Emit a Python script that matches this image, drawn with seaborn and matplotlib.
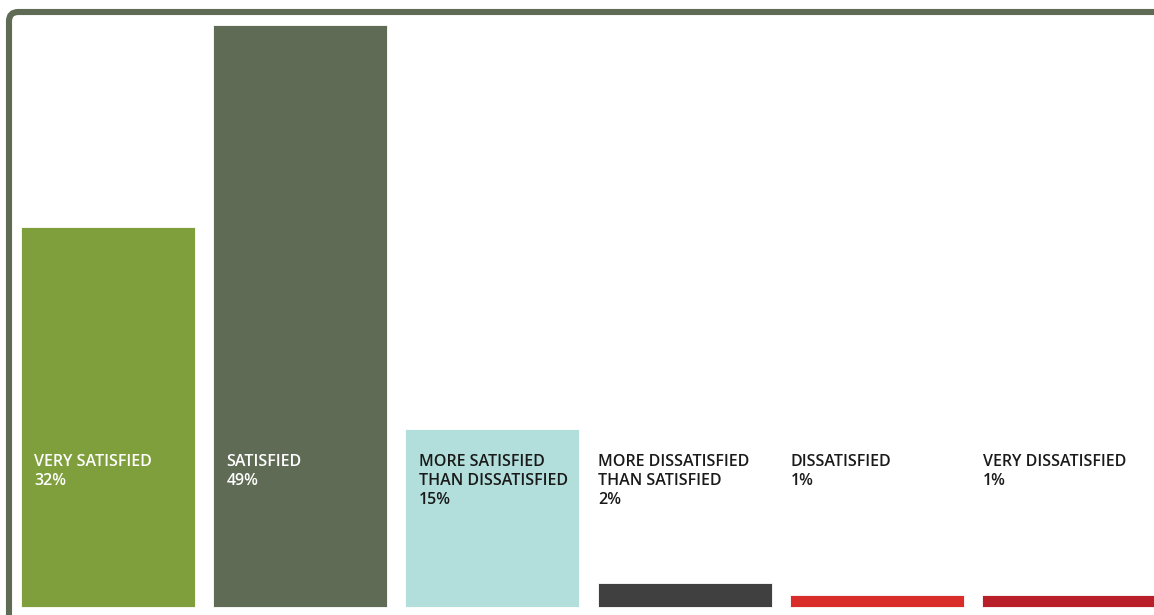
import matplotlib
matplotlib.use("Agg")
import matplotlib.pyplot as plt
from matplotlib.patches import FancyBboxPatch
import seaborn as sns
import pandas as pd

# datos
categorias = ["VERY SATISFIED", "SATISFIED", "MORE SATISFIED\nTHAN DISSATISFIED",
              "MORE DISSATISFIED\nTHAN SATISFIED", "DISSATISFIED", "VERY DISSATISFIED"]
porcentajes = [32, 49, 15, 2, 1, 1]
colores = ["#7f9e3c", "#5f6b55", "#b2dfdb", "#404040", "#d92d2a", "#b81f29"]
color_texto = ["white", "white", "#1a1a1a", "#1a1a1a", "#1a1a1a", "#1a1a1a"]
texto_dentro = [True, True, True, False, False, False]

df = pd.DataFrame({"cat": categorias, "pct": porcentajes})

sns.set_style("white")
plt.rcParams["font.family"] = ["Open Sans", "DejaVu Sans"]

fig = plt.figure(figsize=(11.54, 6.15), dpi=100)
ax = fig.add_axes([0, 0, 1, 1])

sns.barplot(data=df, x="cat", y="pct", hue="cat", palette=colores,
            legend=False, width=0.905, saturation=1, ax=ax,
            edgecolor="white", linewidth=0.6)

ax.set_xlim(-0.562, 5.442)
ax.set_ylim(-0.673, 51.1)
ax.axis("off")

# etiquetas
for i, (cat, pct) in enumerate(zip(categorias, porcentajes)):
    x = i - 0.905 / 2 + (0.068 if texto_dentro[i] else 0.004)
    ax.text(x, 12.85, f"{cat}\n{pct}%", color=color_texto[i], fontsize=11.5,
            fontweight="semibold", ha="left", va="top", linespacing=1.22)

# marco verde arriba a la izquierda
marco = FancyBboxPatch((9 / 1154, -0.05), 1.1, (615 - 12) / 615 + 0.05,
                       boxstyle="round,pad=0,rounding_size=0.008",
                       transform=fig.transFigure, fill=False,
                       edgecolor="#5f6b55", linewidth=4.4,
                       mutation_aspect=1154 / 615, clip_on=False)
fig.patches.append(marco)

fig.savefig("out.png", dpi=100)
